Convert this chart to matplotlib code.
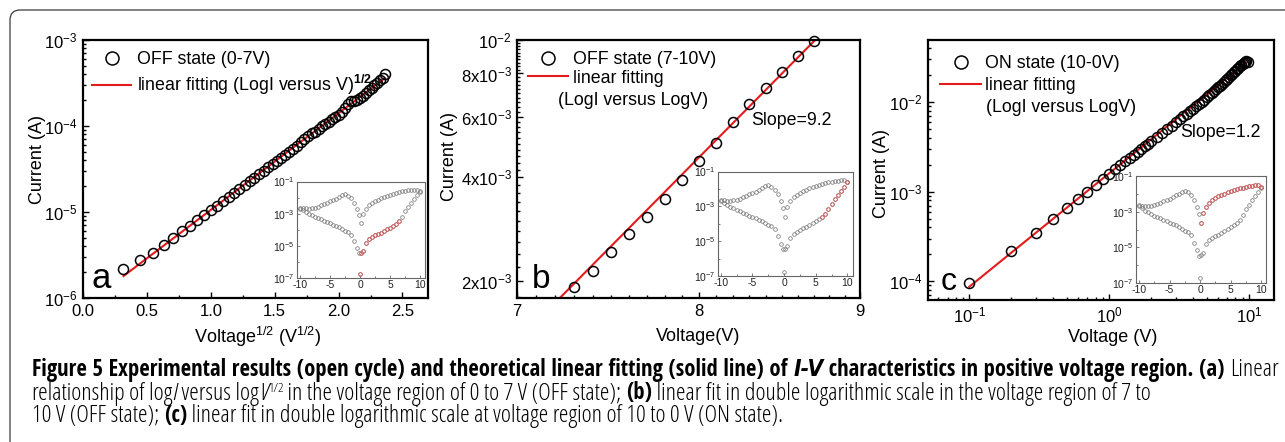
import numpy as np
import matplotlib
matplotlib.use('Agg')
import matplotlib.pyplot as plt
from matplotlib.ticker import (FixedLocator, FixedFormatter, NullFormatter,
                               LogLocator, LogFormatterSciNotation)
from matplotlib.patches import FancyBboxPatch
from matplotlib.transforms import IdentityTransform
from matplotlib.font_manager import FontProperties, fontManager

plt.rcParams['font.family'] = ['Liberation Sans', 'DejaVu Sans']
plt.rcParams['mathtext.fontset'] = 'custom'
plt.rcParams['mathtext.rm'] = 'Liberation Sans'
plt.rcParams['mathtext.it'] = 'Liberation Sans:italic'
plt.rcParams['mathtext.bf'] = 'Liberation Sans:bold'
plt.rcParams['axes.unicode_minus'] = False

# ---------------- data ----------------
# panel a : OFF state (0-7 V), plotted against V^1/2
voltage_a = [0.1, 0.2, 0.3, 0.4, 0.5, 0.6, 0.7, 0.8, 0.9, 1.0,
             1.1, 1.2, 1.3, 1.4, 1.5, 1.6, 1.7, 1.8, 1.9, 2.0,
             2.1, 2.2, 2.3, 2.4, 2.5, 2.6, 2.7, 2.8, 2.9, 3.0,
             3.1, 3.2, 3.3, 3.4, 3.5, 3.6, 3.7, 3.8, 3.9, 4.0,
             4.1, 4.2, 4.3, 4.4, 4.5, 4.6, 4.7, 4.8, 4.9, 5.0,
             5.1, 5.2, 5.3, 5.4, 5.5, 5.6]
current_a = [2.20e-6, 2.77e-6, 3.33e-6, 4.14e-6, 5.00e-6, 5.94e-6, 6.95e-6, 8.05e-6, 9.25e-6, 1.054e-5,
             1.19e-5, 1.34e-5, 1.51e-5, 1.68e-5, 1.87e-5, 2.07e-5, 2.29e-5, 2.51e-5, 2.76e-5, 3.03e-5,
             3.30e-5, 3.61e-5, 3.93e-5, 4.27e-5, 4.62e-5, 5.01e-5, 5.42e-5, 5.85e-5, 6.60e-5, 7.10e-5,
             7.60e-5, 8.20e-5, 8.60e-5, 9.30e-5, 1.00e-4, 1.06e-4, 1.12e-4, 1.20e-4, 1.28e-4, 1.36e-4,
             1.45e-4, 1.63e-4, 1.82e-4, 1.93e-4, 1.95e-4, 2.02e-4, 2.12e-4, 2.26e-4, 2.42e-4, 2.59e-4,
             2.77e-4, 2.97e-4, 3.18e-4, 3.40e-4, 3.62e-4, 4.01e-4]
fit_a_x = [0.317, 2.362]
fit_a_i = [1.80e-6, 3.60e-4]

# panel b : OFF state (7-10 V)
voltage_b = [7.3, 7.4, 7.5, 7.6, 7.7, 7.8, 7.9, 8.0, 8.1, 8.2, 8.3, 8.4, 8.5, 8.6, 8.7]
current_b = [1.93e-3, 2.14e-3, 2.44e-3, 2.75e-3, 3.07e-3, 3.46e-3, 3.93e-3, 4.47e-3,
             5.04e-3, 5.77e-3, 6.51e-3, 7.25e-3, 8.07e-3, 8.96e-3, 9.91e-3]
fit_b_v = [7.2, 8.75]
fit_b_i = [1.738e-3, 1.044e-2]

# panel c : ON state (10-0 V)
voltage_c = [0.1, 0.2, 0.3, 0.4, 0.5, 0.6, 0.7, 0.8, 0.9, 1.0,
             1.1, 1.2, 1.3, 1.4, 1.5, 1.6, 1.7, 1.8, 1.9, 2.0,
             2.2, 2.4, 2.6, 2.8, 3.0, 3.2, 3.4, 3.6, 3.8, 4.0,
             4.2, 4.4, 4.6, 4.8, 5.0, 5.2, 5.4, 5.6, 5.8, 6.0,
             6.2, 6.4, 6.6, 6.8, 7.0, 7.2, 7.4, 7.6, 7.8, 8.0,
             8.2, 8.4, 8.6, 8.8, 9.0, 9.2, 9.4, 9.6, 9.8]
current_c = [9.6e-5, 2.16e-4, 3.47e-4, 4.98e-4, 6.49e-4, 8.18e-4, 9.87e-4, 1.18e-3, 1.37e-3, 1.58e-3,
             1.78e-3, 1.97e-3, 2.17e-3, 2.37e-3, 2.58e-3, 2.79e-3, 2.99e-3, 3.21e-3, 3.42e-3, 3.64e-3,
             4.08e-3, 4.53e-3, 4.99e-3, 5.45e-3, 5.93e-3, 6.40e-3, 6.89e-3, 7.38e-3, 7.87e-3, 8.37e-3,
             8.95e-3, 9.51e-3, 1.007e-2, 1.064e-2, 1.125e-2, 1.186e-2, 1.250e-2, 1.315e-2, 1.380e-2, 1.449e-2,
             1.517e-2, 1.589e-2, 1.663e-2, 1.742e-2, 1.820e-2, 1.901e-2, 1.982e-2, 2.065e-2, 2.153e-2, 2.239e-2,
             2.323e-2, 2.404e-2, 2.489e-2, 2.570e-2, 2.655e-2, 2.735e-2, 2.793e-2, 2.825e-2, 2.810e-2]
fit_c_v = [0.1, 9.5]
fit_c_i = [8.7e-5, 2.75e-2]

# inset : full I-V loop
loop_neg_v = [-10.0, -9.5, -9.0, -8.5, -8.0, -7.5, -7.0, -6.5, -6.0, -5.5, -5.0,
              -4.5, -4.0, -3.5, -3.0, -2.5, -2.0, -1.5, -1.0, -0.5, -0.2]
loop_upper_neg_i = [2.40e-3, 2.29e-3, 2.14e-3, 2.09e-3, 2.19e-3, 2.40e-3, 2.75e-3, 3.31e-3, 3.98e-3,
                    4.79e-3, 5.75e-3, 7.08e-3, 8.71e-3, 1.10e-2, 1.41e-2, 1.58e-2, 1.32e-2, 8.91e-3,
                    4.79e-3, 1.91e-3, 7.94e-4]
loop_lower_neg_i = [2.09e-3, 1.58e-3, 1.20e-3, 9.55e-4, 7.76e-4, 6.31e-4, 5.25e-4, 4.37e-4, 3.55e-4,
                    2.95e-4, 2.51e-4, 2.09e-4, 1.74e-4, 1.41e-4, 1.12e-4, 8.91e-5, 7.08e-5, 5.01e-5,
                    1.91e-5, 7.08e-6, 3.39e-6]
loop_pos_v = [0.2, 0.5, 1.0, 1.5, 2.0, 2.5, 3.0, 3.5, 4.0, 4.5, 5.0,
              5.5, 6.0, 6.5, 7.0, 7.5, 8.0, 8.5, 9.0, 9.5, 10.0]
loop_lower_pos_i = [3.55e-6, 5.01e-6, 1.51e-5, 2.63e-5, 3.55e-5, 4.47e-5, 5.37e-5, 6.31e-5, 8.32e-5,
                    1.07e-4, 1.38e-4, 1.82e-4, 2.40e-4, 3.55e-4, 6.61e-4, 1.41e-3, 2.63e-3, 4.68e-3,
                    7.94e-3, 1.35e-2, 2.34e-2]
loop_upper_pos_i = [2.51e-4, 8.91e-4, 2.00e-3, 3.31e-3, 4.68e-3, 6.03e-3, 7.59e-3, 9.12e-3, 1.10e-2,
                    1.29e-2, 1.51e-2, 1.74e-2, 1.95e-2, 2.19e-2, 2.40e-2, 2.63e-2, 2.82e-2, 3.02e-2,
                    3.16e-2, 3.16e-2, 2.51e-2]
loop_zero_v = [0.0]
loop_zero_i = [1.8e-7]

# ---------------- figure ----------------
W, H = 1285, 442
fig = plt.figure(figsize=(W / 100, H / 100), dpi=100)


def rect(l, t, r, b):
    return [l / W, 1 - b / H, (r - l) / W, (b - t) / H]


frame = FancyBboxPatch((10, -30), 1300, 462, boxstyle='round,pad=0,rounding_size=10',
                       transform=IdentityTransform(), fill=False, ec='#3a3a3a', lw=0.9)
fig.add_artist(frame)

RED = '#e41a1c'
FS_TICK = 12
FS_LAB = 13
FS_LEG = 12.8


def style_main(ax):
    for s in ax.spines.values():
        s.set_linewidth(1.6)
    ax.tick_params(which='both', direction='in', top=False, right=False, width=1.0,
                   labelsize=FS_TICK, colors='black')
    ax.tick_params(which='major', length=4.5, pad=4)
    ax.tick_params(which='minor', length=2.5)


def pts(ax, x, y, label):
    return ax.plot(x, y, 'o', mfc='none', mec='black', ms=7.2, mew=1.1, ls='none',
                   label=label, clip_on=False, zorder=3)[0]


def fitline(ax, x, y, label):
    return ax.plot(x, y, '-', color=RED, lw=1.5, label=label, zorder=2.5)[0]


# ---- panel a ----
axA = fig.add_axes(rect(83, 40, 428, 298))
axA.set_yscale('log')
xa = np.sqrt(voltage_a)
hA1 = pts(axA, xa, current_a, 'OFF state (0-7V)')
hA2 = fitline(axA, fit_a_x, fit_a_i, r'linear fitting (LogI versus V)$^{\mathbf{1/2}}$')
axA.set_xlim(0, 2.7)
axA.set_ylim(1e-6, 1e-3)
axA.xaxis.set_major_locator(FixedLocator([0.0, 0.5, 1.0, 1.5, 2.0, 2.5]))
axA.xaxis.set_major_formatter(FixedFormatter(['0.0', '0.5', '1.0', '1.5', '2.0', '2.5']))
axA.xaxis.set_minor_locator(FixedLocator([0.25, 0.75, 1.25, 1.75, 2.25]))
axA.yaxis.set_major_locator(LogLocator(base=10, numticks=10))
axA.yaxis.set_minor_locator(LogLocator(base=10, subs=np.arange(2, 10), numticks=10))
axA.yaxis.set_minor_formatter(NullFormatter())
style_main(axA)
axA.set_xlabel(r'Voltage$^{1/2}$ (V$^{1/2}$)', fontsize=FS_LAB)
axA.set_ylabel('Current (A)', fontsize=FS_LAB)
axA.xaxis.set_label_coords(0.506, -0.105)
axA.yaxis.set_label_coords(-0.107, 0.535)
axA.legend(handles=[hA1, hA2], loc='upper left', bbox_to_anchor=(0.026, 0.957), frameon=False,
           borderpad=0, borderaxespad=0, handlelength=2.2, handletextpad=0.34,
           labelspacing=0.29, fontsize=FS_LEG, markerscale=1.3)
axA.text(0.025, 0.039, 'a', transform=axA.transAxes, fontsize=25, ha='left', va='baseline')

# ---- panel b ----
axB = fig.add_axes(rect(517, 40, 860, 298))
axB.set_xscale('log')
axB.set_yscale('log')
hB1 = pts(axB, voltage_b, current_b, 'OFF state (7-10V)')
hB2 = fitline(axB, fit_b_v, fit_b_i, 'linear fitting')
axB.set_xlim(7, 9)
axB.set_ylim(1.79e-3, 1.0e-2)
axB.xaxis.set_major_locator(FixedLocator([7, 8, 9]))
axB.xaxis.set_major_formatter(FixedFormatter(['7', '8', '9']))
axB.xaxis.set_minor_locator(FixedLocator([7.1, 7.2, 7.3, 7.4, 7.5, 7.6, 7.7, 7.8, 7.9,
                                          8.1, 8.2, 8.3, 8.4, 8.5, 8.6, 8.7, 8.8, 8.9]))
axB.xaxis.set_minor_formatter(NullFormatter())
axB.yaxis.set_major_locator(FixedLocator([2e-3, 4e-3, 6e-3, 8e-3, 1e-2]))
axB.yaxis.set_major_formatter(FixedFormatter([r'$\mathdefault{2x10^{-3}}$', r'$\mathdefault{4x10^{-3}}$',
                                              r'$\mathdefault{6x10^{-3}}$', r'$\mathdefault{8x10^{-3}}$',
                                              r'$\mathdefault{10^{-2}}$']))
axB.yaxis.set_minor_locator(FixedLocator(np.arange(1.8e-3, 1.0e-2, 2e-4)))
axB.yaxis.set_minor_formatter(NullFormatter())
style_main(axB)
axB.set_xlabel('Voltage(V)', fontsize=FS_LAB)
axB.set_ylabel('Current (A)', fontsize=FS_LAB)
axB.xaxis.set_label_coords(0.528, -0.117)
axB.yaxis.set_label_coords(-0.172, 0.547)
axB.legend(handles=[hB1, hB2], loc='upper left', bbox_to_anchor=(0.032, 0.957), frameon=False,
           borderpad=0, borderaxespad=0, handlelength=2.25, handletextpad=0.28,
           labelspacing=0.08, fontsize=FS_LEG, markerscale=1.3)
axB.text(0.120, 0.767, '(LogI versus LogV)', transform=axB.transAxes, fontsize=FS_LEG,
         ha='left', va='center')
axB.text(0.684, 0.687, 'Slope=9.2', transform=axB.transAxes, fontsize=FS_LEG,
         ha='left', va='center')
axB.text(0.043, 0.039, 'b', transform=axB.transAxes, fontsize=24, ha='left', va='baseline')

# ---- panel c ----
axC = fig.add_axes(rect(928, 40, 1274, 300))
axC.set_xscale('log')
axC.set_yscale('log')
hC1 = pts(axC, voltage_c, current_c, 'ON state (10-0V)')
hC2 = fitline(axC, fit_c_v, fit_c_i, 'linear fitting')
axC.set_xlim(0.0507, 15.1)
axC.set_ylim(6.2e-5, 0.049)
for axis in (axC.xaxis, axC.yaxis):
    axis.set_major_locator(LogLocator(base=10, numticks=10))
    axis.set_minor_locator(LogLocator(base=10, subs=np.arange(2, 10), numticks=10))
    axis.set_minor_formatter(NullFormatter())
style_main(axC)
axC.set_xlabel('Voltage (V)', fontsize=FS_LAB)
axC.set_ylabel('Current (A)', fontsize=FS_LAB)
axC.xaxis.set_label_coords(0.534, -0.113)
axC.yaxis.set_label_coords(-0.110, 0.488)
axC.legend(handles=[hC1, hC2], loc='upper left', bbox_to_anchor=(0.035, 0.942), frameon=False,
           borderpad=0, borderaxespad=0, handlelength=2.3, handletextpad=0.2,
           labelspacing=0.3, fontsize=FS_LEG, markerscale=1.3)
axC.text(0.168, 0.742, '(LogI versus LogV)', transform=axC.transAxes, fontsize=FS_LEG,
         ha='left', va='center')
axC.text(0.728, 0.646, 'Slope=1.2', transform=axC.transAxes, fontsize=FS_LEG,
         ha='left', va='center')
axC.text(0.037, 0.039, 'c', transform=axC.transAxes, fontsize=23, ha='left', va='baseline')


# ---- insets ----
GRAY = '#7a7a7a'
PINK = '#e05a5a'


def inset(r, red_parts):
    ax = fig.add_axes(r)
    ax.set_zorder(5)
    ax.set_facecolor('white')
    ax.set_yscale('log')
    kw = dict(marker='o', ms=2.6, mfc='none', mew=0.55, ls='none', clip_on=False)
    ax.plot(loop_neg_v, loop_upper_neg_i, mec=GRAY, **kw)
    ax.plot(loop_neg_v, loop_lower_neg_i, mec=GRAY, **kw)
    ax.plot(loop_pos_v, loop_lower_pos_i, mec=GRAY, **kw)
    ax.plot(loop_pos_v, loop_upper_pos_i, mec=GRAY, **kw)
    ax.plot(loop_zero_v, loop_zero_i, mec=GRAY, **kw)
    for xs, ys in red_parts:
        ax.plot(xs, ys, mec=PINK, **kw)
    ax.set_xlim(-10.5, 10.8)
    ax.set_ylim(1e-7, 1e-1)
    ax.xaxis.set_major_locator(FixedLocator([-10, -5, 0, 5, 10]))
    ax.xaxis.set_major_formatter(FixedFormatter(['-10', '-5', '0', '5', '10']))
    ax.xaxis.set_minor_locator(FixedLocator([-7.5, -2.5, 2.5, 7.5]))
    ax.yaxis.set_major_locator(FixedLocator([1e-7, 1e-5, 1e-3, 1e-1]))
    ax.yaxis.set_major_formatter(LogFormatterSciNotation())
    ax.yaxis.set_minor_locator(FixedLocator([1e-6, 1e-4, 1e-2]))
    ax.yaxis.set_minor_formatter(NullFormatter())
    for s in ax.spines.values():
        s.set_linewidth(0.8)
        s.set_color('#666666')
    ax.tick_params(which='both', direction='in', top=False, right=False, width=0.6,
                   color='#666666', labelsize=7.5, pad=1.5, labelcolor='#222222')
    ax.tick_params(which='major', length=2.2)
    ax.tick_params(which='minor', length=1.3)
    return ax


sel_a_v = [v for v in loop_pos_v if v <= 6.5]
sel_a_i = [i for v, i in zip(loop_pos_v, loop_lower_pos_i) if v <= 6.5]
sel_b_v = [v for v in loop_pos_v if v >= 6.0]
sel_b_i = [i for v, i in zip(loop_pos_v, loop_lower_pos_i) if v >= 6.0]
inset(rect(297, 181.5, 425, 278), [(sel_a_v, sel_a_i), (loop_zero_v, loop_zero_i)])
inset(rect(717.5, 171.5, 852.5, 276), [(sel_b_v, sel_b_i)])
inset(rect(1136, 176.5, 1266, 283), [(loop_pos_v, loop_upper_pos_i)])

# ---------------- caption ----------------
renderer = fig.canvas.get_renderer()

_WMAP = {'ultralight': 100, 'thin': 100, 'extralight': 200, 'light': 300, 'normal': 400,
         'regular': 400, 'book': 400, 'medium': 500, 'semibold': 600, 'demibold': 600,
         'demi': 600, 'bold': 700, 'extra bold': 800, 'heavy': 800, 'black': 900}


def wnum(w):
    if isinstance(w, (int, float)):
        return w
    return _WMAP.get(str(w).lower(), 400)


def is_cond(f):
    return ('Condensed' in f.name or 'Narrow' in f.name
            or str(f.stretch) in ('condensed', 'semi-condensed', 'extra-condensed'))


def pick_file(bold, italic):
    cands = [f for f in fontManager.ttflist
             if is_cond(f) and f.fname.lower().endswith(('.ttf', '.otf'))]
    good = [f for f in cands
            if (wnum(f.weight) >= 600) == bold and (f.style in ('italic', 'oblique')) == italic]
    if not good:
        return None
    good.sort(key=lambda f: (0 if 'Open Sans' in f.name else 1 if 'Liberation' in f.name else 2,
                             abs(wnum(f.weight) - (700 if bold else 340))))
    return good[0].fname


_files = {}
for key, (b, it) in {'r': (False, False), 'i': (False, True),
                     'b': (True, False), 'bi': (True, True)}.items():
    _files[key] = pick_file(b, it)
if _files['i'] is None:
    _files['i'] = _files['r']
if _files['bi'] is None:
    _files['bi'] = _files['b']


def fp(style, size):
    fn = _files.get(style)
    if fn is not None:
        return FontProperties(fname=fn, size=size)
    return FontProperties(family=['Open Sans', 'DejaVu Sans'],
                          weight='bold' if 'b' in style else 'normal',
                          style='italic' if 'i' in style else 'normal', size=size)


def run_width(s, prop):
    w1 = renderer.get_text_width_height_descent('|' + s + '|', prop, ismath=False)[0]
    w0 = renderer.get_text_width_height_descent('||', prop, ismath=False)[0]
    return w1 - w0


cap_line1 = [("Figure 5 Experimental results (open cycle) and theoretical linear fitting (solid line) of ", 'b'),
             ("I-V", 'bi'), (" characteristics in positive voltage region. (a) ", 'b'), ("Linear", 'r')]
cap_line2 = [("relationship of log", 'r'), ("I", 'i'), (" versus log", 'r'), ("V", 'i'), ("1/2", 'sup'),
             (" in the voltage region of 0 to 7 V (OFF state); ", 'r'), ("(b)", 'b'),
             (" linear fit in double logarithmic scale in the voltage region of 7 to", 'r')]
cap_line3 = [("10 V (OFF state); ", 'r'), ("(c)", 'b'),
             (" linear fit in double logarithmic scale at voltage region of 10 to 0 V (ON state).", 'r')]


def prop_for(st, s_reg, s_bold):
    if st == 'sup':
        return fp('r', s_reg * 0.56)
    return fp(st, s_bold if 'b' in st else s_reg)


def line_width(runs, s_reg, s_bold):
    return sum(run_width(s, prop_for(st, s_reg, s_bold)) for s, st in runs)


s_reg, s_bold = 12.0, 12.0
for _ in range(5):
    s_bold *= 1243.0 / line_width(cap_line1, s_reg, s_bold)
    s_reg *= 1114.0 / line_width(cap_line2, s_reg, s_bold)


def draw_runs(runs, x0, ybase):
    x = x0
    for s, st in runs:
        prop = prop_for(st, s_reg, s_bold)
        yb = ybase - s_reg * 0.32 * 100 / 72 if st == 'sup' else ybase
        fig.text(x / W, 1 - yb / H, s, fontproperties=prop, ha='left', va='baseline')
        x += run_width(s, prop)


draw_runs(cap_line1, 32, 376)
draw_runs(cap_line2, 32, 399.5)
draw_runs(cap_line3, 32, 422)

fig.savefig('out.png', dpi=100)
